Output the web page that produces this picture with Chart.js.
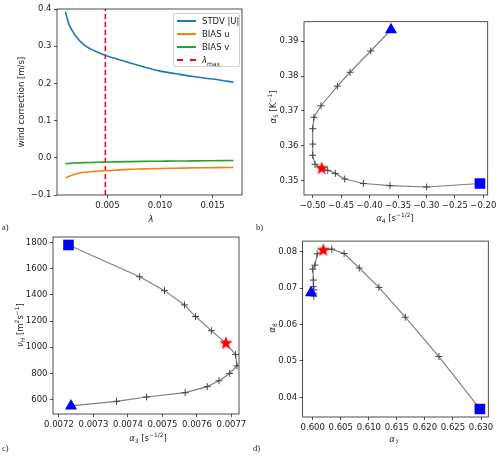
<!DOCTYPE html>
<html>
<head>
<meta charset="utf-8">
<script src="https://cdn.jsdelivr.net/npm/chart.js@4.4.1/dist/chart.umd.min.js"></script>
<style>
  body { margin: 0; background: #fff; }
  #page { position: relative; width: 500px; height: 456px; overflow: hidden; font-family: "DejaVu Sans", sans-serif; color: #222; }
  #page canvas { position: absolute; }
  .lbl { position: absolute; font-size: 8.5px; white-space: nowrap; transform: translate(-50%, -50%); line-height: 1; }
  .rot { transform: translate(-50%, -50%) rotate(-90deg); }
  .panel { position: absolute; font-family: "Liberation Serif", "DejaVu Serif", serif; font-size: 8.5px; }
  sub, sup { font-size: 70%; line-height: 0; }
  #legend { position: absolute; left: 173px; top: 13px; width: 67px; height: 54px; border: 1px solid #d0d0d0; border-radius: 2px; background: rgba(255,255,255,0.85); font-size: 8.5px; box-sizing: border-box; }
  #legend .row { position: absolute; left: 3px; height: 10px; line-height: 10px; }
  #legend .sw { position: absolute; left: 0; top: 4px; width: 19px; height: 2px; }
  #legend .tx { position: absolute; left: 25px; top: 0; white-space: nowrap; }
</style>
</head>
<body>
<div id="page">
  <canvas id="chartA" width="250" height="228" style="left:0;top:0"></canvas>
  <canvas id="chartB" width="250" height="228" style="left:250px;top:0"></canvas>
  <canvas id="chartC" width="250" height="228" style="left:0;top:228px"></canvas>
  <canvas id="chartD" width="250" height="228" style="left:250px;top:228px"></canvas>

  <div id="legend">
    <div class="row" style="top:2px"><span class="sw" style="background:#1f77b4"></span><span class="tx">STDV |U|</span></div>
    <div class="row" style="top:15px"><span class="sw" style="background:#ff7f0e"></span><span class="tx">BIAS u</span></div>
    <div class="row" style="top:28px"><span class="sw" style="background:#2ca02c"></span><span class="tx">BIAS v</span></div>
    <div class="row" style="top:41px"><span class="sw" style="height:0;border-top:2px dashed #ff0000"></span><span class="tx"><i>λ</i><sub>max</sub></span></div>
  </div>

  <div class="lbl" style="left:151px;top:219px"><i>λ</i></div>
  <div class="lbl rot" style="left:21px;top:102px">wind correction [m/s]</div>
  <div class="lbl" style="left:395px;top:218px"><i>α</i><sub>4</sub> [s<sup>−1/2</sup>]</div>
  <div class="lbl rot" style="left:273px;top:107px"><i>α</i><sub>5</sub> [K<sup>−1</sup>]</div>
  <div class="lbl" style="left:148px;top:438px"><i>α</i><sub>3</sub> [s<sup>−1/2</sup>]</div>
  <div class="lbl rot" style="left:20px;top:325px"><i>ν</i><sub><i>H</i></sub> [m<sup>2</sup>s<sup>−1</sup>]</div>
  <div class="lbl" style="left:394px;top:439px"><i>α</i><sub>7</sub></div>
  <div class="lbl rot" style="left:272px;top:328px"><i>α</i><sub>8</sub></div>

  <div class="panel" style="left:2px;top:222px">a)</div>
  <div class="panel" style="left:256px;top:222px">b)</div>
  <div class="panel" style="left:2px;top:443px">c)</div>
  <div class="panel" style="left:253px;top:443px">d)</div>
</div>

<script>
// --- PANEL A: wind correction vs lambda ---
const LAMBDA = [0.001, 0.0013, 0.0019, 0.0028, 0.0038, 0.0047, 0.0056, 0.007, 0.0085, 0.010, 0.0115, 0.013, 0.0145, 0.0155, 0.017];
const STDV_U = [0.393, 0.362, 0.330, 0.303, 0.287, 0.2765, 0.268, 0.256, 0.244, 0.233, 0.226, 0.219, 0.213, 0.210, 0.203];
const BIAS_U = [-0.054, -0.050, -0.044, -0.039, -0.0365, -0.035, -0.0335, -0.031, -0.0298, -0.0288, -0.028, -0.0272, -0.0266, -0.0263, -0.026];
const BIAS_V = [-0.016, -0.0152, -0.0141, -0.013, -0.0122, -0.0115, -0.011, -0.0103, -0.0097, -0.0092, -0.0087, -0.0083, -0.0079, -0.0077, -0.0074];
const LAMBDA_MAX = 0.0048;
const A_X_TICKS = [0.005, 0.010, 0.015];
const A_X_LABELS = ['0.005', '0.010', '0.015'];
const A_Y_TICKS = [0.4, 0.3, 0.2, 0.1, 0.0, -0.1];
const A_Y_LABELS = ['0.4', '0.3', '0.2', '0.1', '0.0', '\u22120.1'];

// --- PANEL B: alpha4 / alpha5 path (start = triangle, end = square) ---
const B_ALPHA4 = [-0.3623, -0.398, -0.4344, -0.4566, -0.4854, -0.4977, -0.500, -0.500, -0.500, -0.4959, -0.4842, -0.4736, -0.4602, -0.4437, -0.4109, -0.3641, -0.2996, -0.2059];
const B_ALPHA5 = [0.3933, 0.3872, 0.3811, 0.3771, 0.3715, 0.3682, 0.3649, 0.3605, 0.3573, 0.3547, 0.3535, 0.3530, 0.3521, 0.3505, 0.3492, 0.3486, 0.3482, 0.3492];
const B_STAR = 10;
const B_X_TICKS = [-0.50, -0.45, -0.40, -0.35, -0.30, -0.25, -0.20];
const B_X_LABELS = ['\u22120.50', '\u22120.45', '\u22120.40', '\u22120.35', '\u22120.30', '\u22120.25', '\u22120.20'];
const B_Y_TICKS = [0.35, 0.36, 0.37, 0.38, 0.39];
const B_Y_LABELS = ['0.35', '0.36', '0.37', '0.38', '0.39'];

// --- PANEL C: alpha3 / nu_H path ---
const C_ALPHA3 = [0.007235, 0.007367, 0.007454, 0.007566, 0.007630, 0.007664, 0.007695, 0.007716, 0.007712, 0.007684, 0.007642, 0.007596, 0.007564, 0.007506, 0.007434, 0.0072277];
const C_NU_H = [552, 587, 620, 653, 699, 744, 800, 858, 944, 1030, 1127, 1235, 1324, 1433, 1539, 1782];
const C_STAR = 9;
const C_X_TICKS = [0.0072, 0.0073, 0.0074, 0.0075, 0.0076, 0.0077];
const C_X_LABELS = ['0.0072', '0.0073', '0.0074', '0.0075', '0.0076', '0.0077'];
const C_Y_TICKS = [600, 800, 1000, 1200, 1400, 1600, 1800];
const C_Y_LABELS = ['600', '800', '1000', '1200', '1400', '1600', '1800'];

// --- PANEL D: alpha7 / alpha8 path ---
const D_ALPHA7 = [0.5997, 0.6002, 0.6002, 0.6002, 0.6001, 0.6001, 0.6000, 0.6004, 0.6008, 0.6019, 0.6034, 0.6056, 0.6083, 0.6118, 0.6165, 0.6225, 0.6298];
const D_ALPHA8 = [0.0687, 0.0678, 0.0686, 0.0695, 0.0704, 0.0722, 0.0752, 0.0763, 0.0794, 0.0804, 0.0807, 0.0795, 0.0755, 0.0702, 0.0620, 0.0512, 0.0368];
const D_STAR = 9;
const D_X_TICKS = [0.600, 0.605, 0.610, 0.615, 0.620, 0.625, 0.630];
const D_X_LABELS = ['0.600', '0.605', '0.610', '0.615', '0.620', '0.625', '0.630'];
const D_Y_TICKS = [0.04, 0.05, 0.06, 0.07, 0.08];
const D_Y_LABELS = ['0.04', '0.05', '0.06', '0.07', '0.08'];

// --- HELPERS ---
const FONT = { family: 'DejaVu Sans', size: 8.5 };
const Y_W = 40, X_H = 25, CW = 250, CH = 228;

// box around the plot area, drawn over the data like matplotlib spines
const framePlugin = {
    id: 'frame',
    afterDatasetsDraw(chart) {
        const { ctx, chartArea: a } = chart;
        ctx.save();
        ctx.strokeStyle = '#222';
        ctx.lineWidth = 0.8;
        ctx.strokeRect(a.left, a.top, a.right - a.left, a.bottom - a.top);
        ctx.restore();
    }
};

function makeStar(r, color) {
    const c = document.createElement('canvas');
    const s = Math.ceil(r * 2 + 2);
    c.width = s; c.height = s;
    const g = c.getContext('2d');
    g.beginPath();
    for (let i = 0; i < 10; i++) {
        const rad = i % 2 ? r * 0.42 : r;
        const ang = -Math.PI / 2 + i * Math.PI / 5;
        g.lineTo(s / 2 + rad * Math.cos(ang), s / 2 + rad * Math.sin(ang));
    }
    g.closePath();
    g.fillStyle = color;
    g.fill();
    return c;
}
const STAR_IMG = makeStar(7, '#ff0000');

function axis(min, max, ticks, labels, horizontal) {
    return {
        type: 'linear', min, max,
        border: { display: false },
        grid: { drawOnChartArea: false, drawTicks: true, tickLength: 3, color: '#222', lineWidth: 0.8 },
        ticks: {
            font: FONT, color: '#222', padding: 2.5, maxRotation: 0, autoSkip: false,
            callback: (v) => { const i = ticks.findIndex(t => Math.abs(t - v) < 1e-12); return i >= 0 ? labels[i] : ''; }
        },
        afterBuildTicks: (s) => { s.ticks = ticks.map(v => ({ value: v })); },
        afterFit: (s) => { if (horizontal) s.height = X_H; else s.width = Y_W; }
    };
}

function frameLayout(L, T, R, B) {
    return { padding: { left: L - Y_W, top: T, right: CW - R, bottom: CH - B - X_H } };
}

function pts(xs, ys) { return xs.map((x, i) => ({ x, y: ys[i] })); }

function pathChart(id, xs, ys, starIdx, frame, xAxis, yAxis) {
    const path = pts(xs, ys);
    const last = path.length - 1;
    // no cross where a big marker sits on top
    const crossR = path.map((p, i) => (i === 0 || i === last || i === starIdx) ? 0 : 3.5);
    new Chart(document.getElementById(id), {
        type: 'scatter',
        data: {
            datasets: [
                { data: [path[starIdx]], pointStyle: STAR_IMG, pointRadius: 7, order: 0 },
                { data: [path[0]], pointStyle: 'triangle', pointRadius: 7, backgroundColor: '#0000ff', borderColor: '#0000ff', borderWidth: 0, order: 0 },
                { data: [path[last]], pointStyle: 'rect', pointRadius: 7.5, backgroundColor: '#0000ff', borderColor: '#0000ff', borderWidth: 0, order: 0 },
                { data: path, showLine: true, borderColor: '#808080', borderWidth: 1.2, pointStyle: 'cross', pointRadius: crossR, pointBorderColor: '#444', pointBorderWidth: 1, order: 1 }
            ]
        },
        options: {
            responsive: false, animation: false,
            layout: frameLayout(...frame),
            plugins: { legend: { display: false }, tooltip: { enabled: false } },
            scales: { x: xAxis, y: yAxis }
        },
        plugins: [framePlugin]
    });
}

// --- CHART CREATION ---
new Chart(document.getElementById('chartA'), {
    type: 'scatter',
    data: {
        datasets: [
            { label: 'STDV |U|', data: pts(LAMBDA, STDV_U), showLine: true, borderColor: '#1f77b4', borderWidth: 1.6, pointRadius: 0, cubicInterpolationMode: 'monotone' },
            { label: 'BIAS u', data: pts(LAMBDA, BIAS_U), showLine: true, borderColor: '#ff7f0e', borderWidth: 1.6, pointRadius: 0, cubicInterpolationMode: 'monotone' },
            { label: 'BIAS v', data: pts(LAMBDA, BIAS_V), showLine: true, borderColor: '#2ca02c', borderWidth: 1.6, pointRadius: 0, cubicInterpolationMode: 'monotone' },
            { label: 'lambda_max', data: [{ x: LAMBDA_MAX, y: -0.1 }, { x: LAMBDA_MAX, y: 0.4 }], showLine: true, borderColor: '#ff0000', borderWidth: 1.5, borderDash: [5, 3], pointRadius: 0 }
        ]
    },
    options: {
        responsive: false, animation: false,
        layout: frameLayout(57, 9, 242, 195),
        plugins: { legend: { display: false }, tooltip: { enabled: false } },
        scales: {
            x: axis(0.0002, 0.0178, A_X_TICKS, A_X_LABELS, true),
            y: axis(-0.1, 0.4, A_Y_TICKS, A_Y_LABELS, false)
        }
    },
    plugins: [framePlugin]
});

pathChart('chartB', B_ALPHA4, B_ALPHA5, B_STAR, [54, 21.7, 237.7, 195],
    axis(-0.5153, -0.1923, B_X_TICKS, B_X_LABELS, true),
    axis(0.3459, 0.3956, B_Y_TICKS, B_Y_LABELS, false));

pathChart('chartC', C_ALPHA3, C_NU_H, C_STAR, [53, 9, 239, 186],
    axis(0.0071828, 0.007722, C_X_TICKS, C_X_LABELS, true),
    axis(490, 1843, C_Y_TICKS, C_Y_LABELS, false));

pathChart('chartD', D_ALPHA7, D_ALPHA8, D_STAR, [52.6, 13.1, 238.3, 189],
    axis(0.5982, 0.6313, D_X_TICKS, D_X_LABELS, true),
    axis(0.0346, 0.0829, D_Y_TICKS, D_Y_LABELS, false));
</script>
</body>
</html>
